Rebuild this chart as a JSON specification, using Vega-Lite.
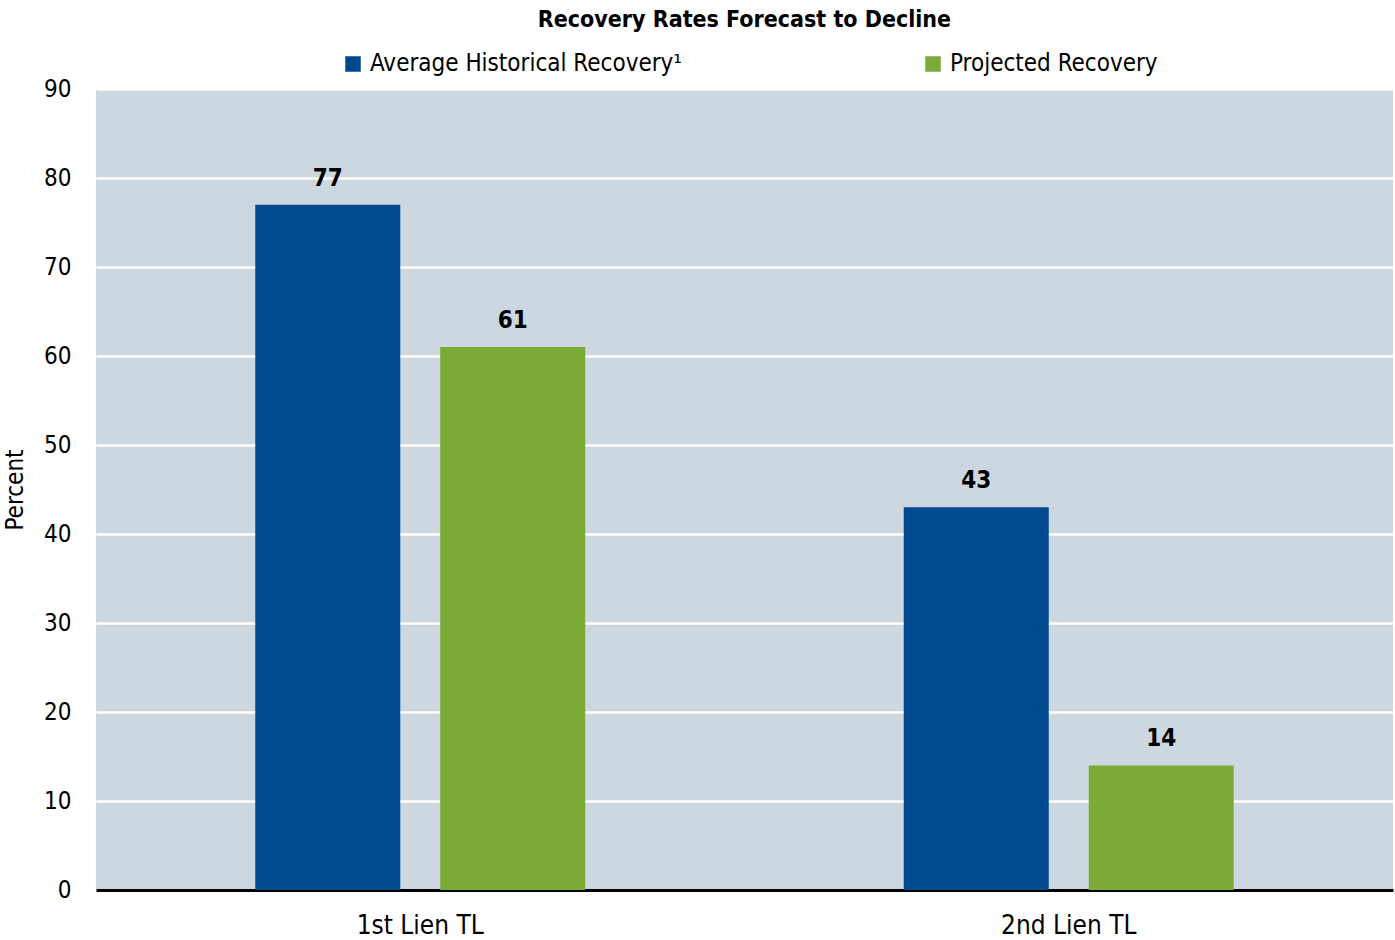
{
  "$schema": "https://vega.github.io/schema/vega-lite/v6.json",
  "width": 1297,
  "height": 801,
  "autosize": {"type": "none"},
  "padding": {"left": 96, "top": 89, "right": 2, "bottom": 50},
  "background": "white",
  "title": {
    "text": "Recovery Rates Forecast to Decline",
    "font": "DejaVu Sans Condensed, Liberation Sans Narrow, Roboto, sans-serif",
    "fontSize": 23,
    "fontWeight": "bold",
    "color": "black",
    "anchor": "middle",
    "offset": 20
  },
  "config": {
    "font": "DejaVu Sans Condensed, Liberation Sans Narrow, Roboto, sans-serif",
    "view": {"fill": "#CDD7E0", "stroke": null}
  },
  "data": {
    "values": [
      {"category": "1st Lien TL", "series": "Average Historical Recovery¹", "value": 77},
      {"category": "1st Lien TL", "series": "Projected Recovery", "value": 61},
      {"category": "2nd Lien TL", "series": "Average Historical Recovery¹", "value": 43},
      {"category": "2nd Lien TL", "series": "Projected Recovery", "value": 14}
    ]
  },
  "encoding": {
    "x": {
      "field": "category",
      "type": "nominal",
      "sort": null,
      "scale": {"paddingInner": 0, "paddingOuter": 0},
      "axis": {
        "title": null,
        "labelAngle": 0,
        "labelFontSize": 26,
        "labelColor": "black",
        "labelPadding": 22,
        "ticks": false,
        "domain": true,
        "domainColor": "black",
        "domainWidth": 3,
        "grid": false
      }
    },
    "xOffset": {
      "field": "series",
      "type": "nominal",
      "sort": null,
      "scale": {"paddingInner": 0.216, "paddingOuter": 0.861}
    },
    "y": {
      "field": "value",
      "type": "quantitative",
      "scale": {"domain": [0, 90], "nice": false},
      "axis": {
        "title": "Percent",
        "titleFontSize": 24,
        "titleFontWeight": "normal",
        "titleColor": "black",
        "titlePadding": 16,
        "values": [0, 10, 20, 30, 40, 50, 60, 70, 80, 90],
        "labelFontSize": 24,
        "labelColor": "black",
        "labelPadding": 25,
        "ticks": false,
        "domain": false,
        "grid": true,
        "gridColor": "white",
        "gridWidth": 2.5
      }
    }
  },
  "layer": [
    {
      "mark": {"type": "bar"},
      "encoding": {
        "color": {
          "field": "series",
          "type": "nominal",
          "sort": null,
          "scale": {"range": ["#00498F", "#7BAA37"]},
          "legend": {
            "title": null,
            "orient": "none",
            "legendX": 245,
            "legendY": -37,
            "direction": "horizontal",
            "columns": 2,
            "columnPadding": 238,
            "symbolType": "square",
            "symbolSize": 240,
            "symbolStrokeWidth": 0,
            "symbolOpacity": 1,
            "labelFontSize": 24,
            "labelColor": "black",
            "labelOffset": 5,
            "labelLimit": 400
          }
        }
      }
    },
    {
      "mark": {
        "type": "text",
        "dy": -14,
        "baseline": "bottom",
        "fontSize": 24,
        "fontWeight": "bold",
        "color": "black"
      },
      "encoding": {
        "text": {"field": "value", "type": "quantitative"}
      }
    }
  ]
}
